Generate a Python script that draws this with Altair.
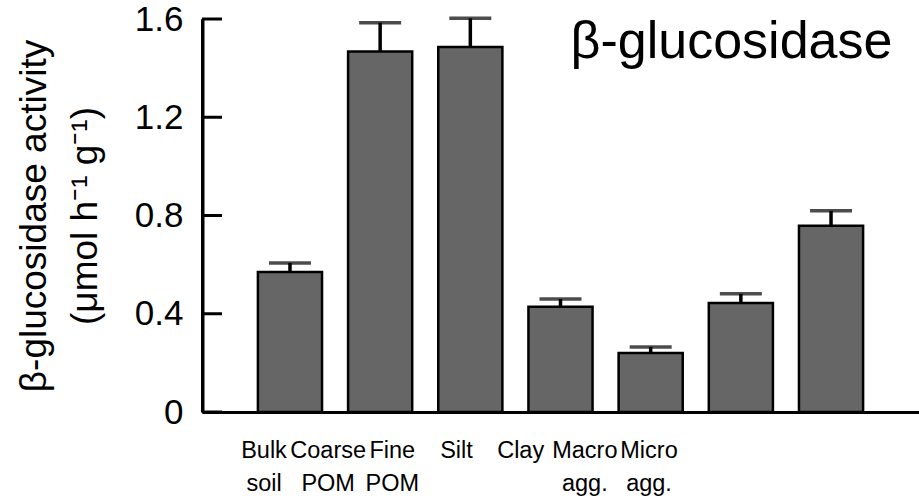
import altair as alt
import pandas as pd

categories = ["Bulk soil", "Coarse POM", "Fine POM", "Silt", "Clay", "Macro agg.", "Micro agg."]
label_lines = ["Bulk\nsoil", "Coarse\nPOM", "Fine\nPOM", "Silt", "Clay", "Macro\nagg.", "Micro\nagg."]
activity = [0.570, 1.468, 1.486, 0.428, 0.240, 0.444, 0.758]
std_err = [0.037, 0.117, 0.117, 0.032, 0.025, 0.037, 0.061]
y_ticks = [0, 0.4, 0.8, 1.2, 1.6]
panel_title = ["β-glucosidase"]
y_title = ["β-glucosidase activity", "(μmol h⁻¹ g⁻¹)"]

df = pd.DataFrame({"cat": categories, "label": label_lines, "val": activity, "se": std_err})
df["top"] = df["val"] + df["se"]
ticks_df = pd.DataFrame({"v": y_ticks})
axis_df = pd.DataFrame({"lo": [min(y_ticks)], "hi": [max(y_ticks)]})
title_df = pd.DataFrame({"t": panel_title})

FONT = "Liberation Sans, Arial, sans-serif"

xs = alt.Scale(type="band", paddingInner=0.289, paddingOuter=0.62)
x_axis = alt.Axis(labels=False, ticks=False, title=None, domain=True, domainColor="black",
                  domainWidth=3, grid=False)
ys = alt.Scale(domain=[0, 1.6], nice=False, zero=True)
y_axis = alt.Axis(values=y_ticks, format=".1~f", labelFontSize=35, labelFont=FONT,
                  labelColor="black", labelPadding=0, tickSize=19, tickWidth=3,
                  tickColor="white", domain=True, domainColor="black",
                  domainWidth=3, grid=False, title=y_title, titleFontSize=37, titleFont=FONT,
                  titleFontWeight="normal", titleColor="black",
                  titleLineHeight=51, titlePadding=30)

bars = alt.Chart(df).mark_bar(color="#666666", stroke="black", strokeWidth=2.5).encode(
    x=alt.X("cat:N", sort=categories, scale=xs, axis=x_axis),
    y=alt.Y("val:Q", scale=ys, axis=y_axis),
)

err = alt.Chart(df).mark_rule(color="black", strokeWidth=3.5).encode(
    x=alt.X("cat:N", sort=categories, scale=xs, axis=x_axis),
    y=alt.Y("val:Q", scale=ys, axis=y_axis),
    y2="top:Q",
)

caps = alt.Chart(df).mark_tick(color="black", size=42, thickness=3.5).encode(
    x=alt.X("cat:N", sort=categories, scale=xs, axis=x_axis),
    y=alt.Y("top:Q", scale=ys, axis=y_axis),
)

inner_ticks = alt.Chart(ticks_df).mark_rule(color="black", strokeWidth=3).encode(
    y=alt.Y("v:Q", scale=ys, axis=y_axis),
    x=alt.value(0),
    x2=alt.value(20),
)

y_line = alt.Chart(axis_df).mark_rule(color="black", strokeWidth=3).encode(
    x=alt.value(1),
    y=alt.value(0),
    y2=alt.value(393),
)

main = alt.layer(bars, err, caps, inner_ticks)

labels = alt.Chart(df).mark_text(
    lineBreak="\n", font=FONT, fontSize=23.5, align="center", baseline="alphabetic",
    lineHeight=33, color="black"
).encode(
    x=alt.X("cat:N", sort=categories,
            scale=alt.Scale(type="point", range=[62, 447], padding=0), axis=None),
    y=alt.value(439),
    text="label:N",
)

title_txt = alt.Chart(title_df).mark_text(
    font=FONT, fontSize=52, align="center", baseline="alphabetic", color="black"
).encode(
    x=alt.value(529.5),
    y=alt.value(39),
    text="t:N",
)

chart = alt.layer(main, labels, title_txt, y_line).resolve_scale(x="independent").properties(
    width=717, height=393,
    padding={"left": 202, "top": 19, "right": 0, "bottom": 92},
    autosize=alt.AutoSizeParams(type="none"),
    background="white",
).configure_view(stroke=None)

chart.save("out.html", embed_options={"renderer": "svg", "actions": False})
